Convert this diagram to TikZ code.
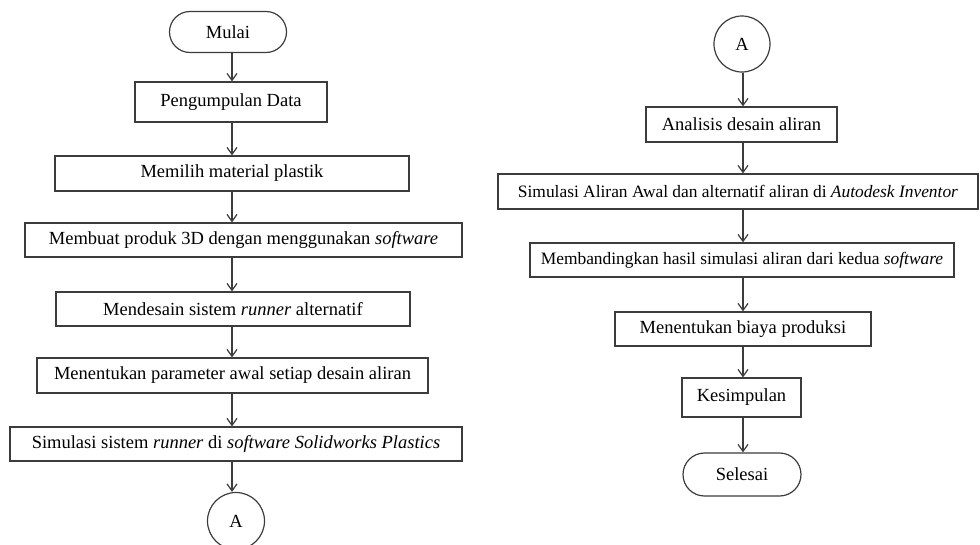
\documentclass[tikz,border=0pt]{standalone}
\usepackage{fontspec}
\setmainfont{Liberation Serif}
\usetikzlibrary{arrows.meta, positioning, shapes.misc}
\definecolor{cline}{HTML}{3C3C3C}
\tikzset{
  every picture/.style={line width=1.2pt},
  box/.style={draw=cline, rectangle, minimum height=35pt, inner sep=2pt, font=\fontsize{18.5}{22}\selectfont},
  smallbox/.style={box, font=\fontsize{17.4}{21}\selectfont},
  terminal/.style={draw=cline, rounded rectangle, minimum height=41pt, inner sep=2pt, font=\fontsize{18.5}{22}\selectfont},
  connector/.style={draw=cline, circle, minimum size=56pt, inner sep=0pt, font=\fontsize{18.5}{22}\selectfont},
  arrow/.style={-{Straight Barb[length=7pt, width=10pt]}, draw=cline, line width=1.2pt},
}

\begin{document}
\begin{tikzpicture}[x=1pt, y=-1pt]
  \useasboundingbox (0,0) rectangle (980,544);
  \coordinate (colL) at (232,0);
  \coordinate (colR) at (743,0);
  % left column
  \node[terminal, minimum width=121pt] (mulai) at (228,32) {Mulai};
  \node[box, minimum width=192pt, minimum height=40pt] (data) at (231,102) {Pengumpulan Data};
  \node[box, minimum width=354pt] (material) at (232,173.5) {Memilih material plastik};
  \node[box, minimum width=437pt, minimum height=34pt] (produk) at (243.5,240) {Membuat produk 3D dengan menggunakan \textit{software}};
  \node[box, minimum width=354pt, minimum height=34pt] (runner) at (233,309) {Mendesain sistem \textit{runner} alternatif};
  \node[box, minimum width=391pt] (param) at (232.5,375.5) {Menentukan parameter awal setiap desain aliran};
  \node[box, minimum width=452pt, minimum height=34pt] (simrun) at (236,444) {Simulasi sistem \textit{runner} di \textit{software Solidworks Plastics}};
  \node[connector, minimum size=57pt] (conA) at (236,521) {A};
  % right column
  \node[connector] (conB) at (742,44) {A};
  \node[box, minimum width=191pt] (analisis) at (741.5,124.5) {Analisis desain aliran};
  \node[smallbox, minimum width=480pt] (simalir) at (738,191.5) {Simulasi Aliran Awal dan alternatif aliran di \textit{Autodesk Inventor}};
  \node[smallbox, minimum width=424pt, minimum height=34pt] (banding) at (742,260) {Membandingkan hasil simulasi aliran dari kedua \textit{software}};
  \node[box, minimum width=256pt, minimum height=34pt] (biaya) at (743,329) {Menentukan biaya produksi};
  \node[box, minimum width=119pt, minimum height=39pt] (simpul) at (741.5,397.5) {Kesimpulan};
  \node[terminal, minimum width=122pt, minimum height=43pt] (selesai) at (742,474.5) {Selesai};
  % arrows
  \foreach \a/\b in {mulai/data, data/material, material/produk, produk/runner, runner/param, param/simrun, simrun/conA}
    \draw[arrow] (\a.south -| colL) -- (\b.north -| colL);
  \foreach \a/\b in {conB/analisis, analisis/simalir, simalir/banding, banding/biaya, biaya/simpul, simpul/selesai}
    \draw[arrow] (\a.south -| colR) -- (\b.north -| colR);
\end{tikzpicture}
\end{document}
